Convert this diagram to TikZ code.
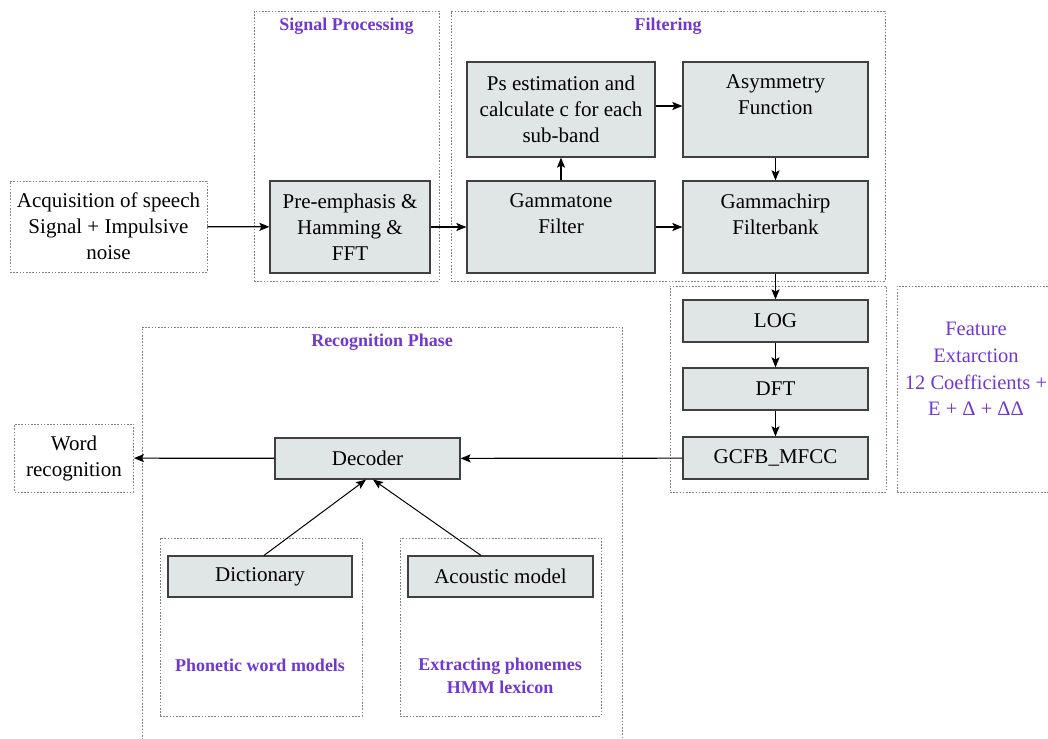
\documentclass[tikz,border=0pt]{standalone}
\usepackage{fontspec}
\setmainfont{LiberationSerif}[Extension=.ttf, UprightFont=*-Regular, BoldFont=*-Bold, ItalicFont=*-Italic, BoldItalicFont=*-BoldItalic]
\usetikzlibrary{positioning, arrows.meta}
\definecolor{boxgray}{RGB}{224,229,229}
\definecolor{titlepurple}{RGB}{112,56,208}
\definecolor{framegray}{RGB}{130,130,130}

\begin{document}
\begin{tikzpicture}[x=1pt, y=-1pt, node distance={68pt},
  main/.style = {draw=black!75, line width=1.2pt, fill=boxgray, align=center, inner sep=0pt, font=\fontsize{21}{26}\selectfont},
  frame/.style = {draw=framegray, line width=0.9pt, dash pattern=on 1.6pt off 1.6pt, inner sep=0pt, align=center},
  title/.style = {text=titlepurple, align=center, font=\bfseries\fontsize{18}{23}\selectfont},
  plain/.style = {align=center, font=\fontsize{21}{26}\selectfont}]
\useasboundingbox (0,0) rectangle (1048,738);

% frames
\node[frame, minimum width=185pt, minimum height=270pt] (sigproc) at (346.5,146) {};
\node[frame, minimum width=434pt, minimum height=270pt] (filt) at (668,146) {};
\node[frame, minimum width=216pt, minimum height=206pt] (featbox) at (778,389) {};
\node[frame, minimum width=158pt, minimum height=206pt] (feattext) at (976,389) {};
\node[frame, minimum width=480pt, minimum height=440pt] (recog) at (382,547) {};
\node[frame, minimum width=202pt, minimum height=178pt] (dictframe) at (261,627) {};
\node[frame, minimum width=201pt, minimum height=178pt] (acouframe) at (500.5,627) {};

\node[title, below=4pt of sigproc.north] {Signal Processing};
\node[title, below=4pt of filt.north] {Filtering};
\node[title, below=4pt of recog.north] {Recognition Phase};
\node[title] (phon) at (260,665) {Phonetic word models};
\node[title] (extr) at (500,676) {Extracting phonemes\\HMM lexicon};
\node[plain, text=titlepurple, font=\fontsize{20.5}{26.7}\selectfont] (featlabel) at (976,369) {Feature\\Extarction\\12 Coefficients +\\E + Δ + ΔΔ};

% blocks
\node[frame, plain, minimum width=197pt, minimum height=91pt] (acq) at (108.5,226.5) {Acquisition of speech\\Signal + Impulsive\\noise};
\node[main, minimum width=160pt, minimum height=92pt] (pre) at (350,227) {Pre-emphasis \&\\Hamming \&\\FFT};
\node[main, minimum width=188pt, minimum height=95pt] (ps) at (561,109.5) {Ps estimation and\\calculate c for each\\sub-band};
\node[main, minimum width=185pt, minimum height=95pt] (asym) [right of=ps, node distance=214.5pt] {Asymmetry\\Function\\[3pt]~};
\node[main, minimum width=188pt, minimum height=92pt] (gamt) [below of=ps, node distance=117.5pt] {Gammatone\\Filter\\~};
\node[main, minimum width=185pt, minimum height=92pt] (gamc) [right of=gamt, node distance=214.5pt] {Gammachirp\\Filterbank\\~};
\node[main, minimum width=185pt, minimum height=42pt] (log) at (775.5,321) {LOG};
\node[main, minimum width=185pt, minimum height=42pt] (dft) [below of=log] {DFT};
\node[main, minimum width=185pt, minimum height=42pt] (gcfb) [below of=dft, node distance=69pt] {GCFB\_MFCC};
\node[main, minimum width=185pt, minimum height=41pt] (decoder) at (367.5,458.5) {Decoder};
\node[main, minimum width=184pt, minimum height=41pt] (dict) at (260,576.5) {Dictionary};
\node[main, minimum width=185pt, minimum height=41pt] (acou) at (500.5,576.5) {Acoustic model};
\node[frame, plain, minimum width=119pt, minimum height=68pt] (word) at (74,458) {Word\\recognition};

% connectors
\draw[->, >={Stealth[length=10pt, width=8pt, inset=2pt]}, line width=1.2pt] (acq) -- (pre);
\draw[->, >={Stealth[length=10pt, width=8pt, inset=2pt]}, line width=1.2pt] (pre) -- (gamt);
\draw[->, >={Stealth[length=10pt, width=8pt, inset=2pt]}, line width=1.2pt] (gamt) -- (gamc);
\draw[->, >={Stealth[length=10pt, width=8pt, inset=2pt]}, line width=1.2pt] (gamt) -- (ps);
\draw[->, >={Stealth[length=10pt, width=8pt, inset=2pt]}, line width=1.2pt] ([yshift=3.5pt]ps.east) -- ([yshift=3.5pt]asym.west);
\draw[->, >={Stealth[length=10pt, width=8pt, inset=2pt]}, line width=1.2pt] (asym) -- (gamc);
\draw[->, >={Stealth[length=10pt, width=8pt, inset=2pt]}, line width=1.2pt] (gamc) -- (log);
\draw[->, >={Stealth[length=10pt, width=8pt, inset=2pt]}, line width=1.2pt] (log) -- (dft);
\draw[->, >={Stealth[length=10pt, width=8pt, inset=2pt]}, line width=1.2pt] (dft) -- (gcfb);
\draw[->, >={Stealth[length=10pt, width=8pt, inset=2pt]}, line width=1.2pt] (gcfb) -- (decoder);
\draw[->, >={Stealth[length=10pt, width=8pt, inset=2pt]}, line width=1.2pt] (decoder) -- (word);
\draw[->, >={Stealth[length=10pt, width=8pt, inset=2pt]}, line width=1pt] ([xshift=4pt]dict.north) -- ([xshift=-1.5pt]decoder.south);
\draw[->, >={Stealth[length=10pt, width=8pt, inset=2pt]}, line width=1pt] ([xshift=-19.5pt]acou.north) -- ([xshift=5.5pt]decoder.south);

\end{tikzpicture}
\end{document}
